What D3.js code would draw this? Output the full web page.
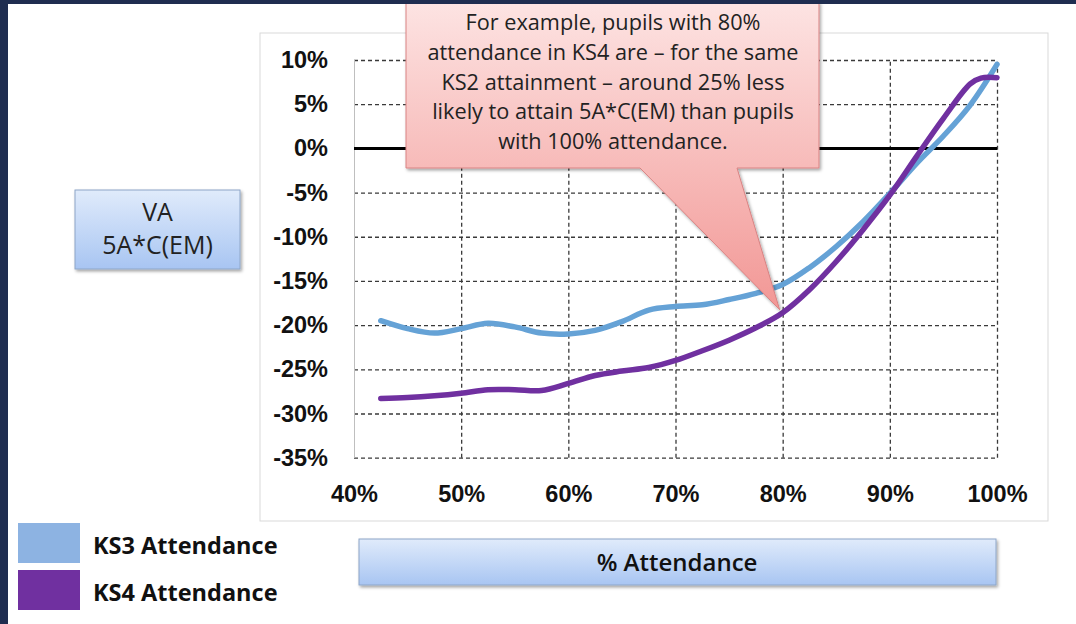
<!DOCTYPE html>
<meta charset="utf-8">
<title>VA 5A*C(EM) by attendance</title>
<style>
  body { margin: 0; background: #fff; }
  svg { display: block; font-family: "Open Sans", "DejaVu Sans", sans-serif; }
</style>
<body>
<div id="viz"></div>
<script src="https://cdnjs.cloudflare.com/ajax/libs/d3/7.8.5/d3.min.js"></script>
<script>

// attendance (%) vs value added (%)
var ks3 = [
  [42.5, -19.5], [45, -20.4], [47.5, -20.9], [50, -20.4], [52.5, -19.8],
  [55, -20.2], [57.5, -20.9], [60, -21.0], [62.5, -20.6], [65, -19.6],
  [67.5, -18.3], [70, -17.9], [72.5, -17.7], [75, -17.1], [77.5, -16.4],
  [80, -15.4], [82.5, -13.5], [85, -11.1], [87.5, -8.3], [90, -5.1],
  [92.5, -1.7], [95, 1.4], [97.5, 4.9], [100, 9.5]
];
var ks4 = [
  [42.5, -28.3], [45, -28.2], [47.5, -28.0], [50, -27.7], [52.5, -27.3],
  [55, -27.3], [57.5, -27.4], [60, -26.6], [62.5, -25.7], [65, -25.2],
  [67.5, -24.8], [70, -24.0], [72.5, -22.9], [75, -21.7], [77.5, -20.3],
  [80, -18.6], [82.5, -16.0], [85, -12.8], [87.5, -9.2], [90, -5.3],
  [92.5, -0.9], [95, 3.4], [97.5, 7.3], [98.5, 7.95], [100, 8.0]
];
var xTicks = [40, 50, 60, 70, 80, 90, 100];
var yTicks = [10, 5, 0, -5, -10, -15, -20, -25, -30, -35];
var legendNames = ["KS3 Attendance", "KS4 Attendance"];
var calloutLines = [
  "For example, pupils with 80%",
  "attendance in KS4 are \u2013 for the same",
  "KS2 attainment \u2013 around 25% less",
  "likely to attain 5A*C(EM) than pupils",
  "with 100% attendance."
];

var width = 1076;
var height = 624;

var svg = d3.select("#viz")
  .append("svg")
  .attr("width", width)
  .attr("height", height);

var defs = svg.append("defs");

var blueGrad = defs.append("linearGradient")
  .attr("id", "blue").attr("x1", 0).attr("y1", 0).attr("x2", 0).attr("y2", 1);
blueGrad.append("stop").attr("offset", "0%").attr("stop-color", "#e0ebfb");
blueGrad.append("stop").attr("offset", "100%").attr("stop-color", "#a8c5f2");

var pinkGrad = defs.append("linearGradient")
  .attr("id", "pink").attr("gradientUnits", "userSpaceOnUse")
  .attr("x1", 0).attr("y1", 0).attr("x2", 0).attr("y2", 310);
pinkGrad.append("stop").attr("offset", "0%").attr("stop-color", "#fde4e3");
pinkGrad.append("stop").attr("offset", "100%").attr("stop-color", "#f29795");

var shadow = defs.append("filter").attr("id", "shadow")
  .attr("x", "-10%").attr("y", "-10%").attr("width", "130%").attr("height", "140%");
shadow.append("feDropShadow")
  .attr("dx", 1.5).attr("dy", 2).attr("stdDeviation", 1.5)
  .attr("flood-color", "#000").attr("flood-opacity", 0.35);

// chart frame
svg.append("rect")
  .attr("x", 260).attr("y", 33)
  .attr("width", 788).attr("height", 488)
  .attr("fill", "#fff")
  .attr("stroke", "#d9d9d9");

var x = d3.scaleLinear().domain([40, 100]).range([354, 997]);
var y = d3.scaleLinear().domain([-35, 10]).range([457.7, 60]);

// horizontal grid + y labels
var yAxis = svg.append("g")
  .attr("transform", "translate(" + x(40) + ",0)")
  .call(d3.axisLeft(y).tickValues(yTicks).tickFormat(function(d) { return d + "%"; })
    .tickSize(-(x(100) - x(40))).tickPadding(26));
yAxis.select(".domain").remove();
yAxis.selectAll("line")
  .attr("stroke", "#3a3a3a")
  .attr("stroke-width", 1.3)
  .attr("stroke-dasharray", "4,3");
yAxis.selectAll("text")
  .attr("fill", "#111")
  .style("font-size", "23.5px")
  .style("font-weight", "bold");

// vertical grid + x labels
var xAxis = svg.append("g")
  .attr("transform", "translate(0," + y(-35) + ")")
  .call(d3.axisBottom(x).tickValues(xTicks).tickFormat(function(d) { return d + "%"; })
    .tickSize(-(y(-35) - y(10))));
xAxis.select(".domain").remove();
xAxis.selectAll("line")
  .attr("stroke", function(d) { return d === 40 ? "#bfbfbf" : "#3a3a3a"; })
  .attr("stroke-width", function(d) { return d === 40 ? 1 : 1.3; })
  .attr("stroke-dasharray", function(d) { return d === 40 ? null : "4,3"; });
xAxis.selectAll("text")
  .attr("y", 44).attr("dy", 0)
  .attr("fill", "#111")
  .style("font-size", "23.5px")
  .style("font-weight", "bold");

// zero line
svg.append("line")
  .attr("x1", x(40)).attr("x2", x(100))
  .attr("y1", y(0)).attr("y2", y(0))
  .attr("stroke", "#000")
  .attr("stroke-width", 3);

var line = d3.line()
  .x(function(d) { return x(d[0]); })
  .y(function(d) { return y(d[1]); })
  .curve(d3.curveCatmullRom.alpha(0.5));

var lineColors = ["#65a2d6", "#7030a0"];
var swatchColors = ["#8db3e2", "#7030a0"];

svg.selectAll(".series")
  .data([ks3, ks4])
  .enter().append("path")
  .attr("class", "series")
  .attr("d", line)
  .attr("fill", "none")
  .attr("stroke", function(d, i) { return lineColors[i]; })
  .attr("stroke-width", 5.5)
  .attr("stroke-linecap", "round");

// callout pointing at KS4 80%
var tipX = x(80) - 3;
var tipY = y(ks4[15][1]) - 3;
var callout = svg.append("g").attr("filter", "url(#shadow)");
callout.append("path")
  .attr("d", "M406,2 L819,2 L819,168 L737,168 L" + tipX + "," + tipY + " L640,168 L406,168 Z")
  .attr("fill", "url(#pink)")
  .attr("stroke", "#d98383")
  .attr("stroke-width", 1);
svg.append("g").selectAll("text")
  .data(calloutLines)
  .enter().append("text")
  .attr("x", 613)
  .attr("y", function(d, i) { return 30 + i * 29.8; })
  .attr("text-anchor", "middle")
  .attr("fill", "#222")
  .style("font-size", "21.7px")
  .text(function(d) { return d; });

// VA label box
svg.append("rect")
  .attr("x", 75).attr("y", 190)
  .attr("width", 165).attr("height", 79)
  .attr("fill", "url(#blue)")
  .attr("stroke", "#8ea6c8")
  .attr("filter", "url(#shadow)");
svg.selectAll(".va")
  .data(["VA", "5A*C(EM)"])
  .enter().append("text")
  .attr("class", "va")
  .attr("x", 157.5)
  .attr("y", function(d, i) { return 221 + i * 33; })
  .attr("text-anchor", "middle")
  .attr("fill", "#222")
  .style("font-size", "25px")
  .text(function(d) { return d; });

// x title box
svg.append("rect")
  .attr("x", 359).attr("y", 539)
  .attr("width", 637).attr("height", 46)
  .attr("fill", "url(#blue)")
  .attr("stroke", "#8ea6c8")
  .attr("filter", "url(#shadow)");
svg.append("text")
  .attr("x", 677).attr("y", 571)
  .attr("text-anchor", "middle")
  .attr("fill", "#111")
  .style("font-size", "24px")
  .style("font-weight", 600)
  .text("% Attendance");

// legend
var legend = svg.selectAll(".legend")
  .data(legendNames)
  .enter().append("g")
  .attr("class", "legend")
  .attr("transform", function(d, i) { return "translate(18," + (523 + i * 47) + ")"; });
legend.append("rect")
  .attr("width", 62).attr("height", 40)
  .attr("fill", function(d, i) { return swatchColors[i]; });
legend.append("text")
  .attr("x", 75).attr("y", 31)
  .attr("fill", "#111")
  .style("font-size", "23.5px")
  .style("font-weight", "bold")
  .text(function(d) { return d; });

// slide frame
svg.append("rect").attr("x", 0).attr("y", 0).attr("width", width).attr("height", 4).attr("fill", "#1f2d50");
svg.append("rect").attr("x", 0).attr("y", 0).attr("width", 8).attr("height", height).attr("fill", "#1f2d50");

</script>
</body>
